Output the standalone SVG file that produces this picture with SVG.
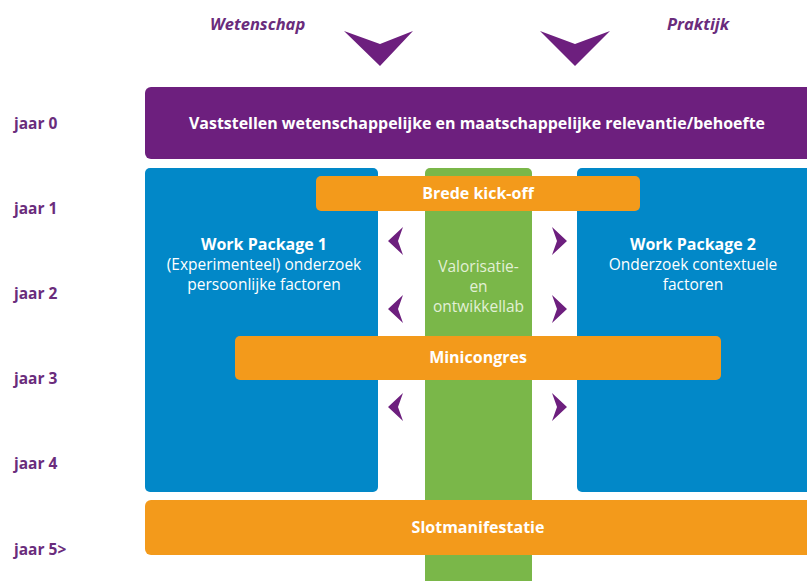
<svg xmlns="http://www.w3.org/2000/svg" width="807" height="581" viewBox="0 0 807 581">
<style>
.yr{font-family:"Open Sans","Liberation Sans",sans-serif;font-weight:bold;font-size:15.5px;fill:#6a2c7c}
.hd{font-family:"Open Sans","Liberation Sans",sans-serif;font-weight:bold;font-style:italic;font-size:16.5px;fill:#6a2c7c}
.wb{font-family:"Open Sans","Liberation Sans",sans-serif;font-weight:bold;font-size:16px;fill:#fff;text-anchor:middle}
.wn{font-family:"Open Sans","Liberation Sans",sans-serif;font-size:15.5px;fill:#fff;text-anchor:middle}
.gn{font-family:"Open Sans","Liberation Sans",sans-serif;font-size:15.5px;fill:#e2f0d6;text-anchor:middle}
.pu{fill:#6d1f7e}
.bl{fill:#0288c8}
.or{fill:#f39a1b}
.gr{fill:#7ab749}
</style>
<rect width="807" height="581" fill="#fff"/>
<g id="headers">
<text class="hd" x="210" y="30">Wetenschap</text>
<text class="hd" x="667" y="30">Praktijk</text>
</g>
<g id="years">
<text class="yr" x="14" y="129">jaar 0</text>
<text class="yr" x="14" y="214">jaar 1</text>
<text class="yr" x="14" y="299">jaar 2</text>
<text class="yr" x="14" y="384">jaar 3</text>
<text class="yr" x="14" y="469">jaar 4</text>
<text class="yr" x="14" y="555">jaar 5&gt;</text>
</g>
<g id="green-column">
<rect class="gr" x="425" y="168" width="107" height="420" rx="5"/>
<text class="gn" x="478.5" y="272">Valorisatie-</text>
<text class="gn" x="478.5" y="292">en</text>
<text class="gn" x="478.5" y="312">ontwikkellab</text>
</g>
<g id="relevantie">
<rect class="pu" x="145" y="87" width="672" height="72" rx="6"/>
<text class="wb" x="477" y="129" textLength="576" lengthAdjust="spacingAndGlyphs">Vaststellen wetenschappelijke en maatschappelijke relevantie/behoefte</text>
</g>
<g id="wp1">
<rect class="bl" x="145" y="168" width="233" height="324" rx="5"/>
<text class="wb" x="264" y="250">Work Package 1</text>
<text class="wn" x="264" y="270">(Experimenteel) onderzoek</text>
<text class="wn" x="264" y="290">persoonlijke factoren</text>
</g>
<g id="wp2">
<rect class="bl" x="577" y="168" width="240" height="324" rx="5"/>
<text class="wb" x="693" y="250">Work Package 2</text>
<text class="wn" x="693" y="270">Onderzoek contextuele</text>
<text class="wn" x="693" y="290">factoren</text>
</g>
<g id="kickoff">
<rect class="or" x="316" y="176" width="324" height="35" rx="5"/>
<text class="wb" x="478" y="199">Brede kick-off</text>
</g>
<g id="minicongres">
<rect class="or" x="235" y="336" width="486" height="44" rx="5"/>
<text class="wb" x="478" y="363">Minicongres</text>
</g>
<g id="slotmanifestatie">
<rect class="or" x="145" y="500" width="672" height="55" rx="6"/>
<text class="wb" x="478" y="533">Slotmanifestatie</text>
</g>
<g id="connectors">
<polygon class="pu" points="344,31 380,44 413,31 380,66"/>
<polygon class="pu" points="540,31 575,44 610,31 575,66"/>
<polygon class="pu" points="403,227 388,241 403,255 398,241"/>
<polygon class="pu" points="403,295 388,309 403,323 398,309"/>
<polygon class="pu" points="403,393 388,407 403,421 398,407"/>
<polygon class="pu" points="552,227 567,241 552,255 557,241"/>
<polygon class="pu" points="552,295 567,309 552,323 557,309"/>
<polygon class="pu" points="552,393 567,407 552,421 557,407"/>
</g>
</svg>
